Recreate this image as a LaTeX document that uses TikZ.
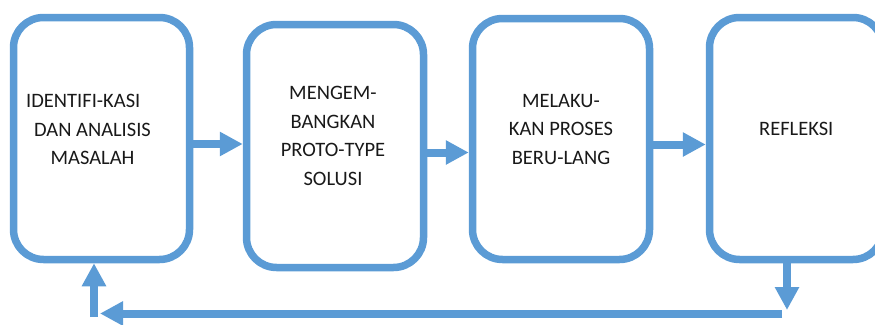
\documentclass[tikz,border=0pt]{standalone}
\usepackage{fontspec}
\setmainfont{Carlito}
\usepackage{tikz}
\usetikzlibrary{calc,positioning,arrows.meta}
\definecolor{myblue}{HTML}{5B9BD5}
\tikzset{
mybox/.style={
  draw=myblue,
  line width=7.5pt,
  rounded corners=30pt,
  minimum width=#1,
  minimum height=242pt,
  inner sep=0pt
  },
mytext/.style={
  align=center,
  font=\fontsize{20.5}{28.5}\selectfont,
  text=black!90
  },
myarrow/.style={
  draw=myblue,
  line width=8pt,
  -{Triangle[length=23pt,width=23pt]}
  }
}

\begin{document}
\begin{tikzpicture}[x=1pt,y=-1pt]
            \useasboundingbox (0,0) rectangle (875,324);
            \clip (0,0) rectangle (875,324);
            % the four steps
            \node[mybox=176pt] (b1) at (101.5,138.5) {};
            \node[mybox=177pt,minimum height=243pt] (b2) at (335,146) {};
            \node[mybox=177pt,minimum height=241pt] (b3) at (561,139) {};
            \node[mybox=173.5pt] (b4) at (796.25,138.5) {};
            \node[mytext] (t1) at ([xshift=-9pt,yshift=9pt]b1.center) {IDENTIFI-KASI\hspace*{0.9em}\\DAN ANALISIS\\MASALAH};
            \node[mytext] (t2) at ([xshift=-2pt,yshift=10pt]b2.center) {MENGEM-\\BANGKAN\\PROTO-TYPE\\SOLUSI};
            \node[mytext] (t3) at ([yshift=10pt]b3.center) {MELAKU-\\KAN PROSES\\BERU-LANG};
            \node[mytext] (t4) at ([yshift=10pt]b4.center) {REFLEKSI};
            % arrows between the steps
            \draw[myarrow] ([yshift=-5.5pt]b1.east) -- ([yshift=-5.5pt]b1.east -| b2.west);
            \draw[myarrow] ([yshift=-6.5pt]b2.east) -- ([yshift=-6.5pt]b2.east -| b3.west);
            \draw[myarrow] ([yshift=-5.5pt]b3.east) -- ([yshift=-5.5pt]b3.east -| b4.west);
            % back to the first step
            \coordinate (down) at (787,310);
            \coordinate (backR) at (782,313.5);
            \coordinate (backL) at (100,313.5);
            \coordinate (up) at (94,317);
            \draw[myarrow] ([xshift=-9.25pt]b4.south) -- (down);
            \draw[myarrow] (backR) -- (backL);
            \draw[myarrow] (up) -- (up |- b1.south);
        \end{tikzpicture}
\end{document}
